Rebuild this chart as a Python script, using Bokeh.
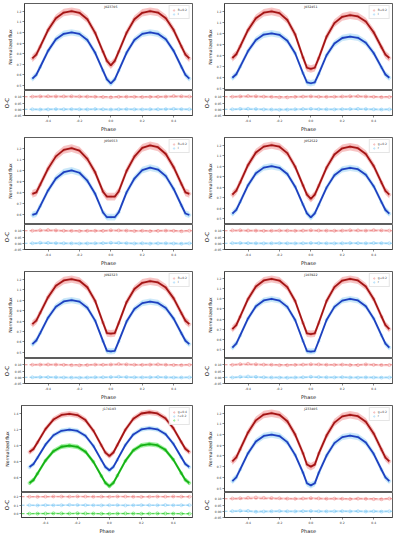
from bokeh.plotting import figure
from bokeh.layouts import column, row
from bokeh.models import (Range1d, FixedTicker, SingleIntervalTicker, NumeralTickFormatter,
                          Label, Span, Legend, LegendItem)
from bokeh.embed import file_html
from bokeh.resources import INLINE

# ---------------- data ----------------
PHASE = [-0.5, -0.475, -0.45, -0.4, -0.35, -0.3, -0.25, -0.2, -0.15, -0.1, -0.05, -0.025, 0.0,
         0.025, 0.05, 0.1, 0.15, 0.2, 0.25, 0.3, 0.35, 0.4, 0.45, 0.475, 0.5]
RES_PHASE = [-0.5, -0.45, -0.4, -0.35, -0.3, -0.25, -0.2, -0.15, -0.1, -0.05, 0.0,
             0.05, 0.1, 0.15, 0.2, 0.25, 0.3, 0.35, 0.4, 0.45, 0.5]
X_TICKS = [-0.4, -0.2, 0.0, 0.2, 0.4]

NAMES = ["J023705", "J032451", "J050553", "J052522", "J092323", "J103922", "J174103", "J233405"]
LEGENDS = [["R+0.2", "I"], ["R+0.2", "I"], ["R+0.2", "I"], ["g+0.2", "r"],
           ["R+0.2", "I"], ["g+0.2", "r"], ["g+0.4", "r+0.2", "i"], ["g+0.2", "r"]]

F1_R = [0.755,0.791,0.866,1.022,1.133,1.187,1.200,1.185,1.124,0.996,0.818,0.731,0.690,0.731,0.818,0.996,1.124,1.185,1.200,1.187,1.133,1.022,0.866,0.791,0.755]
F1_B = [0.565,0.600,0.674,0.826,0.935,0.987,1.000,0.986,0.928,0.808,0.640,0.558,0.520,0.558,0.640,0.808,0.928,0.986,1.000,0.987,0.935,0.826,0.674,0.600,0.565]
F2_R = [0.775,0.809,0.881,1.030,1.136,1.187,1.200,1.184,1.121,0.990,0.780,0.686,0.675,0.686,0.773,0.969,1.092,1.150,1.165,1.153,1.107,1.009,0.873,0.806,0.775]
F2_B = [0.595,0.627,0.696,0.838,0.939,0.988,1.000,0.986,0.932,0.818,0.636,0.554,0.545,0.554,0.630,0.800,0.906,0.957,0.970,0.959,0.914,0.820,0.689,0.625,0.595]
F3_R = [0.790,0.802,0.872,1.016,1.126,1.184,1.200,1.178,1.104,0.983,0.809,0.765,0.765,0.765,0.811,0.995,1.124,1.202,1.225,1.208,1.147,1.029,0.877,0.803,0.790]
F3_B = [0.600,0.612,0.680,0.820,0.928,0.984,1.000,0.979,0.908,0.790,0.622,0.580,0.580,0.580,0.624,0.803,0.927,1.003,1.025,1.008,0.949,0.834,0.685,0.613,0.600]
F4_R = [0.730,0.768,0.848,1.012,1.130,1.186,1.200,1.185,1.124,0.996,0.818,0.731,0.690,0.730,0.814,0.987,1.111,1.170,1.185,1.171,1.117,1.003,0.844,0.766,0.730]
F4_B = [0.550,0.586,0.663,0.820,0.933,0.987,1.000,0.985,0.927,0.806,0.636,0.554,0.515,0.553,0.633,0.797,0.915,0.971,0.985,0.972,0.920,0.811,0.659,0.585,0.550]
F5_R = [0.770,0.804,0.878,1.028,1.136,1.187,1.200,1.184,1.122,0.992,0.784,0.685,0.680,0.685,0.780,0.980,1.105,1.165,1.180,1.168,1.119,1.016,0.873,0.803,0.770]
F5_B = [0.580,0.614,0.685,0.832,0.937,0.987,1.000,0.985,0.927,0.804,0.608,0.515,0.510,0.515,0.605,0.795,0.914,0.971,0.985,0.973,0.924,0.823,0.681,0.612,0.580]
F6_R = [0.700,0.740,0.825,1.000,1.125,1.185,1.200,1.184,1.118,0.980,0.760,0.656,0.650,0.656,0.760,0.980,1.118,1.184,1.200,1.185,1.125,1.000,0.825,0.740,0.700]
F6_B = [0.515,0.554,0.636,0.806,0.927,0.985,1.000,0.984,0.921,0.790,0.580,0.480,0.475,0.480,0.580,0.790,0.921,0.984,1.000,0.985,0.927,0.806,0.636,0.554,0.515]
F7_R = [0.920,0.958,1.040,1.208,1.328,1.386,1.400,1.384,1.321,1.188,1.003,0.912,0.870,0.914,1.008,1.200,1.338,1.404,1.420,1.405,1.345,1.220,1.045,0.960,0.920]
F7_B = [0.730,0.768,0.848,1.012,1.130,1.186,1.200,1.185,1.124,0.996,0.818,0.731,0.690,0.732,0.823,1.008,1.141,1.204,1.220,1.205,1.147,1.024,0.853,0.769,0.730]
F7_G = [0.530,0.568,0.648,0.812,0.930,0.986,1.000,0.985,0.924,0.796,0.618,0.531,0.490,0.532,0.623,0.808,0.941,1.004,1.020,1.005,0.947,0.824,0.653,0.569,0.530]
F8_R = [0.750,0.786,0.863,1.020,1.133,1.187,1.200,1.185,1.125,1.000,0.825,0.720,0.700,0.719,0.821,0.991,1.112,1.170,1.185,1.172,1.120,1.011,0.859,0.785,0.750]
F8_B = [0.565,0.600,0.674,0.826,0.935,0.987,1.000,0.986,0.929,0.810,0.644,0.544,0.525,0.544,0.641,0.804,0.920,0.976,0.990,0.977,0.926,0.820,0.671,0.599,0.565]

# residuals (O-C, shifted as plotted)
R1_R = [0.101,0.103,0.104,0.103,0.103,0.104,0.102,0.101,0.100,0.098,0.096,0.099,0.100,0.099,0.098,0.099,0.100,0.101,0.106,0.104,0.102]
R1_B = [0.000,-0.002,-0.001,0.001,0.000,0.001,0.000,-0.001,0.002,0.000,-0.002,0.000,0.001,0.000,-0.001,0.000,0.000,0.001,0.003,0.001,0.000]
R2_R = [0.100,0.103,0.106,0.104,0.101,0.099,0.096,0.095,0.099,0.101,0.103,0.100,0.099,0.100,0.102,0.104,0.105,0.102,0.099,0.097,0.098]
R2_B = [0.000,0.003,0.004,0.002,-0.001,-0.002,-0.004,-0.003,0.000,0.002,0.003,0.001,0.000,-0.001,0.001,0.002,0.003,0.002,0.000,-0.002,-0.001]
R3_R = [0.100,0.104,0.106,0.103,0.100,0.099,0.098,0.099,0.100,0.099,0.104,0.103,0.101,0.098,0.100,0.097,0.099,0.101,0.099,0.096,0.100]
R3_B = [0.000,0.004,0.003,0.001,0.000,-0.001,-0.002,-0.001,0.000,0.001,0.004,0.003,0.001,-0.002,0.000,-0.003,-0.001,0.000,-0.002,-0.004,-0.001]
R4_R = [0.103,0.104,0.102,0.101,0.099,0.100,0.102,0.101,0.100,0.101,0.104,0.102,0.101,0.100,0.101,0.104,0.103,0.101,0.105,0.103,0.101]
R4_B = [0.001,0.002,0.001,0.000,-0.001,0.000,0.001,0.000,-0.001,0.000,0.002,0.001,0.000,-0.001,0.000,0.002,0.001,0.000,0.002,0.001,0.000]
R5_R = [0.100,0.101,0.102,0.101,0.099,0.097,0.096,0.098,0.101,0.100,0.102,0.106,0.103,0.100,0.099,0.101,0.103,0.100,0.098,0.097,0.099]
R5_B = [0.000,0.001,0.001,0.000,-0.002,-0.003,-0.004,-0.002,0.000,0.000,0.002,0.004,0.002,0.000,-0.001,0.000,0.002,0.000,-0.002,-0.002,-0.001]
R6_R = [0.099,0.105,0.108,0.104,0.101,0.100,0.097,0.097,0.099,0.101,0.104,0.103,0.100,0.099,0.101,0.098,0.097,0.103,0.099,0.098,0.098]
R6_B = [-0.002,0.004,0.006,0.003,0.000,-0.002,-0.003,-0.004,-0.002,0.000,0.004,0.002,0.000,-0.001,0.001,-0.002,-0.003,-0.001,-0.002,-0.003,-0.002]
R7_R = [0.200,0.199,0.201,0.203,0.202,0.201,0.204,0.202,0.200,0.201,0.199,0.203,0.202,0.200,0.198,0.200,0.202,0.201,0.203,0.201,0.200]
R7_B = [0.100,0.097,0.101,0.099,0.100,0.104,0.102,0.101,0.099,0.098,0.100,0.101,0.097,0.099,0.101,0.100,0.099,0.102,0.099,0.100,0.101]
R7_G = [0.000,0.001,0.002,0.004,0.003,0.002,0.005,0.003,0.002,0.000,-0.001,0.001,0.003,0.002,0.000,0.001,0.003,0.002,0.001,0.000,-0.001]
R8_R = [0.102,0.104,0.108,0.110,0.107,0.106,0.104,0.101,0.100,0.102,0.105,0.103,0.100,0.101,0.100,0.098,0.101,0.099,0.097,0.096,0.101]
R8_B = [0.001,0.004,0.003,-0.004,-0.002,0.000,0.002,0.000,-0.001,0.001,0.002,0.000,-0.001,0.000,0.001,-0.001,0.001,-0.002,0.000,-0.003,0.000]

OFFSETS_2 = [0.10, 0.00]
OFFSETS_3 = [0.20, 0.10, 0.00]
SCATTER_2 = [0.035, 0.03]          # half-width of the observed-point cloud
SCATTER_3 = [0.035, 0.03, 0.03]
RES_SCATTER = 0.009                # half-width of the residual point cloud

# ---------------- styles ----------------
BAND_COL = ["#f5b5b5", "#bfe2f8", "#90ee90"]
PT_COL = ["#f08a8a", "#87cefa", "#3ee03e"]
LINE_COL = ["#a31515", "#1f3fbf", "#16b016"]
RES_DASH = ["#e87070", "#6ec2ee", "#22c822"]
FONT = "DejaVu Sans"

W, H_MAIN, H_RES = 200, 90, 44
BL, BR = 18, 8


def style_axis(ax, label, label_size):
    ax.axis_label = label
    ax.axis_label_text_font_size = label_size
    ax.axis_label_text_font_style = "normal"
    ax.axis_label_text_font = FONT
    ax.axis_label_text_color = "#111111"
    ax.axis_label_standoff = 1
    ax.major_label_text_font_size = "3px"
    ax.major_label_text_font = FONT
    ax.major_label_text_color = "#333333"
    ax.major_label_standoff = 1
    ax.major_tick_out = 2
    ax.major_tick_in = 0
    ax.minor_tick_line_color = None
    ax.axis_line_color = "#333333"
    ax.major_tick_line_color = "#333333"
    ax.major_tick_line_width = 0.6
    ax.axis_line_width = 0.8


def make_panel(name, labels, curves, spreads, resids, offsets, main_step, res_range, res_step, res_fmt):
    n = len(curves)
    lo = min(min(c[i] - s for i in range(len(c))) for c, s in zip(curves, spreads))
    hi = max(max(c[i] + s for i in range(len(c))) for c, s in zip(curves, spreads))
    pad = 0.05 * (hi - lo)
    xr = Range1d(-0.55, 0.52)
    main = figure(width=W, height=H_MAIN, x_range=xr, y_range=Range1d(lo - pad, hi + pad),
                  x_axis_location=None, toolbar_location=None, output_backend="svg",
                  min_border_left=BL, min_border_right=BR, min_border_top=3, min_border_bottom=0)
    main.grid.visible = False
    main.outline_line_color = "#333333"
    main.outline_line_width = 0.8
    style_axis(main.yaxis[0], "Normalized flux", "4.5px")
    main.yaxis[0].ticker = SingleIntervalTicker(interval=main_step, num_minor_ticks=0)
    main.yaxis[0].formatter = NumeralTickFormatter(format="0.0")

    pts_renderers = []
    for k in range(n):
        c, s = curves[k], spreads[k]
        main.varea(x=PHASE, y1=[v - s for v in c], y2=[v + s for v in c],
                   fill_color=BAND_COL[k], fill_alpha=0.8)
        main.varea(x=PHASE, y1=[v - s * 0.45 for v in c], y2=[v + s * 0.45 for v in c],
                   fill_color=PT_COL[k], fill_alpha=0.25)
    for k in range(n):
        c = curves[k]
        pr = main.scatter(x=PHASE, y=c, size=3, marker="circle", line_color=PT_COL[k],
                          fill_color=PT_COL[k], fill_alpha=0.3, line_alpha=0.7, line_width=0.5)
        pts_renderers.append(pr)
        main.line(x=PHASE, y=c, line_color=LINE_COL[k], line_width=1.8)

    legend = Legend(items=[LegendItem(label=labels[k], renderers=[pts_renderers[k]]) for k in range(n)],
                    location="top_right", label_text_font_size="3px", label_text_font=FONT,
                    glyph_width=4, glyph_height=4, label_height=4, label_width=6, label_standoff=2,
                    padding=2, spacing=0, margin=2, border_line_color="#cccccc",
                    border_line_width=0.5, background_fill_alpha=0.85)
    main.add_layout(legend)
    main.add_layout(Label(x=0, y=hi + pad, y_offset=-1.5, text=name, text_align="center",
                          text_baseline="top", text_font_size="3.2px", text_font=FONT,
                          text_color="#111111"))

    res = figure(width=W, height=H_RES, x_range=xr, y_range=Range1d(*res_range),
                 toolbar_location=None, output_backend="svg",
                 min_border_left=BL, min_border_right=BR, min_border_top=0, min_border_bottom=14)
    res.grid.visible = False
    res.outline_line_color = "#333333"
    res.outline_line_width = 0.8
    style_axis(res.xaxis[0], "Phase", "5px")
    res.xaxis[0].ticker = FixedTicker(ticks=X_TICKS)
    res.xaxis[0].formatter = NumeralTickFormatter(format="0.0")
    style_axis(res.yaxis[0], "O-C", "5.5px")
    res.yaxis[0].ticker = SingleIntervalTicker(interval=res_step, num_minor_ticks=0)
    res.yaxis[0].formatter = NumeralTickFormatter(format=res_fmt)

    for k in range(n):
        r = resids[k]
        res.add_layout(Span(location=offsets[k], dimension="width", line_color=RES_DASH[k],
                            line_dash="3 2", line_width=0.8))
        res.varea(x=RES_PHASE, y1=[v - RES_SCATTER for v in r], y2=[v + RES_SCATTER for v in r],
                  fill_color=PT_COL[k], fill_alpha=0.4)
        res.scatter(x=RES_PHASE, y=r, size=3, marker="circle", line_color=PT_COL[k],
                    fill_color=None, line_alpha=0.9, line_width=0.6)
    return column(main, res, spacing=0)


panels = [
    make_panel(NAMES[0], LEGENDS[0], [F1_R, F1_B], SCATTER_2, [R1_R, R1_B], OFFSETS_2, 0.1, (-0.05, 0.15), 0.05, "0.00"),
    make_panel(NAMES[1], LEGENDS[1], [F2_R, F2_B], SCATTER_2, [R2_R, R2_B], OFFSETS_2, 0.1, (-0.05, 0.15), 0.05, "0.00"),
    make_panel(NAMES[2], LEGENDS[2], [F3_R, F3_B], SCATTER_2, [R3_R, R3_B], OFFSETS_2, 0.1, (-0.05, 0.15), 0.05, "0.00"),
    make_panel(NAMES[3], LEGENDS[3], [F4_R, F4_B], SCATTER_2, [R4_R, R4_B], OFFSETS_2, 0.1, (-0.05, 0.15), 0.05, "0.00"),
    make_panel(NAMES[4], LEGENDS[4], [F5_R, F5_B], SCATTER_2, [R5_R, R5_B], OFFSETS_2, 0.1, (-0.05, 0.15), 0.05, "0.00"),
    make_panel(NAMES[5], LEGENDS[5], [F6_R, F6_B], SCATTER_2, [R6_R, R6_B], OFFSETS_2, 0.1, (-0.05, 0.15), 0.05, "0.00"),
    make_panel(NAMES[6], LEGENDS[6], [F7_R, F7_B, F7_G], SCATTER_3, [R7_R, R7_B, R7_G], OFFSETS_3, 0.2, (-0.045, 0.25), 0.1, "0.0"),
    make_panel(NAMES[7], LEGENDS[7], [F8_R, F8_B], SCATTER_2, [R8_R, R8_B], OFFSETS_2, 0.1, (-0.05, 0.15), 0.05, "0.00"),
]

p = column(*[row(panels[2 * i], panels[2 * i + 1], spacing=0) for i in range(4)], spacing=0)

open("out.html", "w").write(file_html(p, INLINE))
